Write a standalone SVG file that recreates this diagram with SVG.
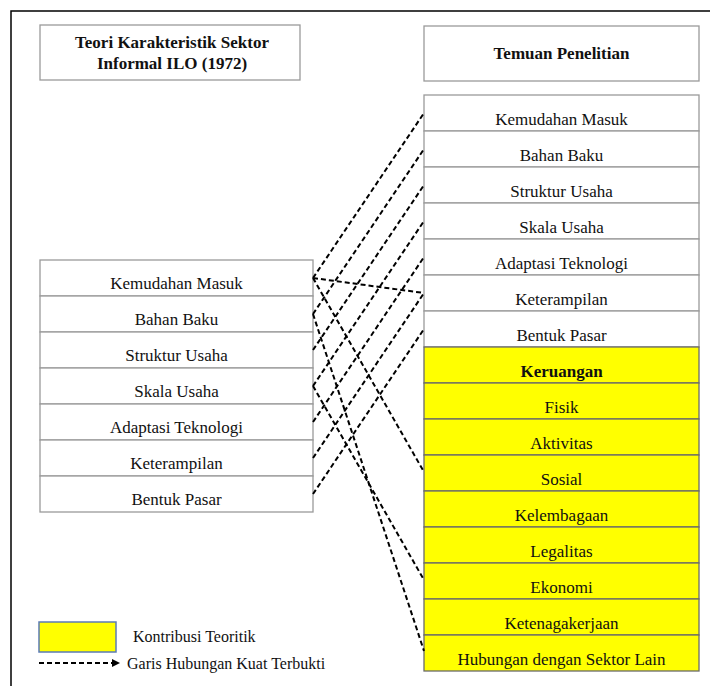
<svg xmlns="http://www.w3.org/2000/svg" width="710" height="686" viewBox="0 0 710 686">
<defs>
<style>
.frame{fill:none;stroke:#000;stroke-width:1.5}
.hdr{fill:#fff;stroke:#9a9a9a;stroke-width:1.3}
.row{fill:#fff;stroke:#9a9a9a;stroke-width:1.3}
.yrow{fill:#ffff00;stroke:#6a6a6a;stroke-width:1.3}
.t{font-family:"Liberation Serif","Times New Roman",serif;font-size:17px;fill:#111;text-anchor:middle}
.b{font-weight:bold}
.lg{font-family:"Liberation Serif","Times New Roman",serif;font-size:16px;fill:#111}
.c{fill:none;stroke:#000;stroke-width:2;stroke-dasharray:5 3}
</style>
</defs>
<rect width="710" height="686" fill="#fff"/>
<path class="frame" d="M11,700 V11 H720"/>

<g id="hdr-left">
<rect class="hdr" x="40" y="25" width="260" height="55"/>
<text class="t b" x="172" y="48">Teori Karakteristik Sektor</text>
<text class="t b" x="172" y="69">Informal ILO (1972)</text>
</g>
<g id="hdr-right">
<rect class="hdr" x="424" y="26" width="275" height="55"/>
<text class="t b" x="561.5" y="59">Temuan Penelitian</text>
</g>

<g id="left-list">
<g id="L1"><rect class="row" x="40" y="260" width="273" height="36"/><text class="t" x="176.5" y="289">Kemudahan Masuk</text></g>
<g id="L2"><rect class="row" x="40" y="296" width="273" height="36"/><text class="t" x="176.5" y="325">Bahan Baku</text></g>
<g id="L3"><rect class="row" x="40" y="332" width="273" height="36"/><text class="t" x="176.5" y="361">Struktur Usaha</text></g>
<g id="L4"><rect class="row" x="40" y="368" width="273" height="36"/><text class="t" x="176.5" y="397">Skala Usaha</text></g>
<g id="L5"><rect class="row" x="40" y="404" width="273" height="36"/><text class="t" x="176.5" y="433">Adaptasi Teknologi</text></g>
<g id="L6"><rect class="row" x="40" y="440" width="273" height="36"/><text class="t" x="176.5" y="469">Keterampilan</text></g>
<g id="L7"><rect class="row" x="40" y="476" width="273" height="36"/><text class="t" x="176.5" y="505">Bentuk Pasar</text></g>
</g>

<g id="right-list">
<g id="R1"><rect class="row" x="424" y="95" width="275" height="36"/><text class="t" x="561.5" y="125">Kemudahan Masuk</text></g>
<g id="R2"><rect class="row" x="424" y="131" width="275" height="36"/><text class="t" x="561.5" y="161">Bahan Baku</text></g>
<g id="R3"><rect class="row" x="424" y="167" width="275" height="36"/><text class="t" x="561.5" y="197">Struktur Usaha</text></g>
<g id="R4"><rect class="row" x="424" y="203" width="275" height="36"/><text class="t" x="561.5" y="233">Skala Usaha</text></g>
<g id="R5"><rect class="row" x="424" y="239" width="275" height="36"/><text class="t" x="561.5" y="269">Adaptasi Teknologi</text></g>
<g id="R6"><rect class="row" x="424" y="275" width="275" height="36"/><text class="t" x="561.5" y="305">Keterampilan</text></g>
<g id="R7"><rect class="row" x="424" y="311" width="275" height="36"/><text class="t" x="561.5" y="341">Bentuk Pasar</text></g>
<g id="R8"><rect class="yrow" x="424" y="347" width="275" height="36"/><text class="t b" x="561.5" y="377">Keruangan</text></g>
<g id="R9"><rect class="yrow" x="424" y="383" width="275" height="36"/><text class="t" x="561.5" y="413">Fisik</text></g>
<g id="R10"><rect class="yrow" x="424" y="419" width="275" height="36"/><text class="t" x="561.5" y="449">Aktivitas</text></g>
<g id="R11"><rect class="yrow" x="424" y="455" width="275" height="36"/><text class="t" x="561.5" y="485">Sosial</text></g>
<g id="R12"><rect class="yrow" x="424" y="491" width="275" height="36"/><text class="t" x="561.5" y="521">Kelembagaan</text></g>
<g id="R13"><rect class="yrow" x="424" y="527" width="275" height="36"/><text class="t" x="561.5" y="557">Legalitas</text></g>
<g id="R14"><rect class="yrow" x="424" y="563" width="275" height="36"/><text class="t" x="561.5" y="593">Ekonomi</text></g>
<g id="R15"><rect class="yrow" x="424" y="599" width="275" height="36"/><text class="t" x="561.5" y="629">Ketenagakerjaan</text></g>
<g id="R16"><rect class="yrow" x="424" y="635" width="275" height="36"/><text class="t" x="561.5" y="665">Hubungan dengan Sektor Lain</text></g>
</g>

<g id="connectors">
<line class="c" x1="313" y1="278" x2="424" y2="113"/>
<line class="c" x1="313" y1="314" x2="424" y2="149"/>
<line class="c" x1="313" y1="350" x2="424" y2="185"/>
<line class="c" x1="313" y1="386" x2="424" y2="221"/>
<line class="c" x1="313" y1="422" x2="424" y2="257"/>
<line class="c" x1="313" y1="458" x2="424" y2="293"/>
<line class="c" x1="313" y1="494" x2="424" y2="329"/>
<line class="c" x1="313" y1="278" x2="424" y2="293"/>
<line class="c" x1="313" y1="278" x2="424" y2="472"/>
<line class="c" x1="313" y1="314" x2="424" y2="651"/>
<line class="c" x1="313" y1="386" x2="424" y2="580"/>
</g>

<g id="legend">
<rect x="39" y="622" width="77" height="30" fill="#ffff00" stroke="#5b7bb5" stroke-width="1.5"/>
<text class="lg" x="133" y="642">Kontribusi Teoritik</text>
<line x1="39" y1="663" x2="113" y2="663" stroke="#000" stroke-width="2" stroke-dasharray="5 3"/>
<path d="M112,659 L120,663 L112,667 z" fill="#000"/>
<text class="lg" x="127" y="669">Garis Hubungan Kuat Terbukti</text>
</g>
</svg>
